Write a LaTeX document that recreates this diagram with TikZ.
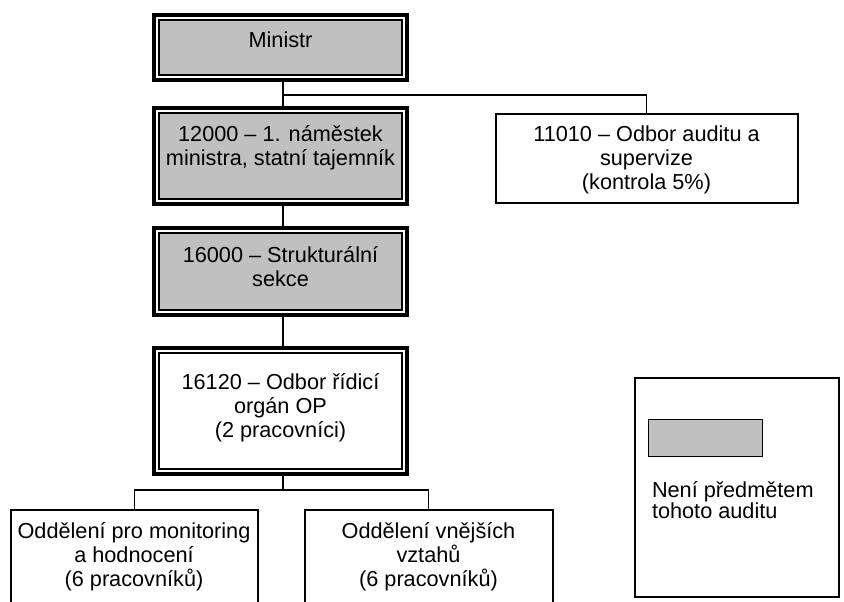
\documentclass[tikz,border=0pt]{standalone}
\usepackage{fontspec}
\setmainfont{Liberation Sans}
\definecolor{boxgray}{RGB}{192,192,192}
\begin{document}
\begin{tikzpicture}[x=1pt,y=-1pt,
  every node/.style={font=\fontsize{21.7}{24}\selectfont, inner sep=0pt, outer sep=0pt},
  tribox/.style={draw=black, line width=4pt, fill=white, rectangle, anchor=north west, minimum width=253pt, minimum height=#1},
  innergray/.style={draw=black, line width=2.5pt, fill=boxgray},
  innerwhite/.style={draw=black, line width=2.5pt},
  plainbox/.style={draw=black, line width=1.5pt, fill=white, rectangle, anchor=north west},
  conn/.style={draw=black, line width=1.3pt},
  lbl/.style={align=center, anchor=base}]
\useasboundingbox (0,0) rectangle (844,602);
\clip (0,0) rectangle (844,602);
\fill[white] (0,0) rectangle (844,602);

% connector junctions
\coordinate (j1) at (283,95);
\coordinate (j2) at (283,490);

% boxes
\node[tribox=65pt] (min) at (154,15) {};
\draw[innergray] ([shift={(5pt,-5pt)}]min.north west) rectangle ([shift={(-5pt,5pt)}]min.south east);
\node[tribox=96pt] (dep) at (154,108) {};
\draw[innergray] ([shift={(5pt,-5pt)}]dep.north west) rectangle ([shift={(-5pt,5pt)}]dep.south east);
\node[tribox=87pt] (sek) at (154,228) {};
\draw[innergray] ([shift={(5pt,-5pt)}]sek.north west) rectangle ([shift={(-5pt,5pt)}]sek.south east);
\node[tribox=126pt] (odb) at (154,348) {};
\draw[innerwhite] ([shift={(5pt,-5pt)}]odb.north west) rectangle ([shift={(-5pt,5pt)}]odb.south east);

\node[plainbox, minimum width=302pt, minimum height=89pt] (aud) at (495.75,113.75) {};
\node[plainbox, minimum width=247pt, minimum height=120pt] (mon) at (10.75,509.75) {};
\node[plainbox, minimum width=248pt, minimum height=120pt] (vzt) at (304.75,509.75) {};

% legend
\node[plainbox, minimum width=204pt, minimum height=219pt] (leg) at (634.75,377.75) {};
\node[draw=black, line width=1.3pt, fill=boxgray, rectangle, anchor=north west, minimum width=114pt, minimum height=37pt] (sw) at (648.5,419.5) {};

% connectors
\draw[conn] (j1 |- min.south) -- (j1 |- dep.north);
\draw[conn] (j1) -| (aud.north);
\draw[conn] (j1 |- dep.south) -- (j1 |- sek.north);
\draw[conn] (j1 |- sek.south) -- (j1 |- odb.north);
\draw[conn] (j1 |- odb.south) -- (j2);
\draw[conn] (mon.north) |- (j2) -| (vzt.north);

% labels (anchor base = baseline of last line)
\node[lbl] (tmin) at (280.5,47.5) {Ministr};
\node[lbl] (tdep) at (280.5,165) {12000 – 1. náměstek\\ministra, statní tajemník};
\node[lbl] (tsek) at (280.5,286) {16000 – Strukturální\\sekce};
\node[lbl] (todb) at (280.5,437) {16120 – Odbor řídicí\\orgán OP\\(2 pracovníci)};
\node[lbl] (taud) at (646.5,189) {11010 – Odbor auditu a\\supervize\\(kontrola 5\%)};
\node[lbl] (tmon) at (134,586) {Oddělení pro monitoring\\a hodnocení\\(6 pracovníků)};
\node[lbl] (tvzt) at (428.5,586) {Oddělení vnějších\\vztahů\\(6 pracovníků)};
\node[anchor=base west, align=left, font=\fontsize{21.7}{21}\selectfont] (tleg) at (652,518) {Není předmětem\\tohoto auditu};
\end{tikzpicture}
\end{document}
